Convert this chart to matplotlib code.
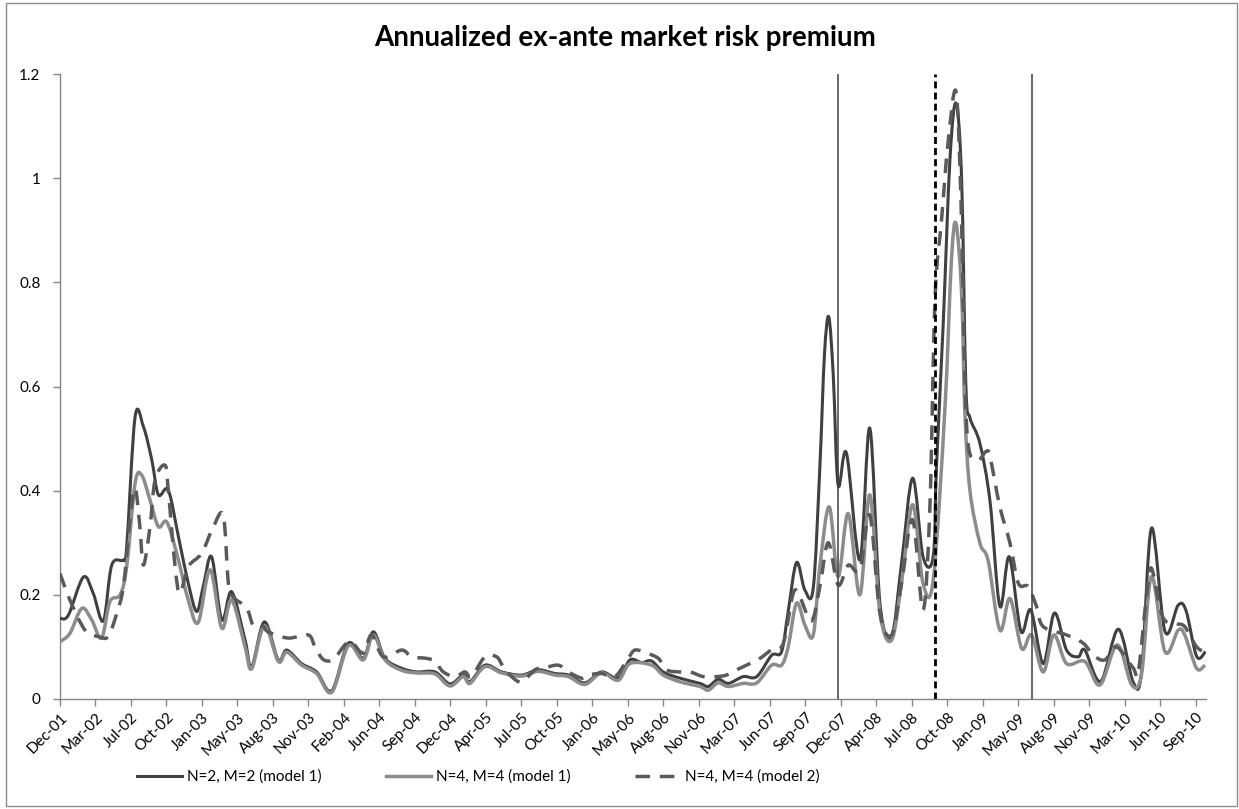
import numpy as np
import matplotlib
matplotlib.use('Agg')
import matplotlib.pyplot as plt
from matplotlib.patches import Rectangle, PathPatch
from matplotlib.path import Path
from matplotlib.lines import Line2D

plt.rcParams['font.family'] = ['Lato', 'DejaVu Sans']

# weekly observations, week 0 = Dec-01, one label every 14 weeks
tick_labels = ['Dec-01', 'Mar-02', 'Jul-02', 'Oct-02', 'Jan-03', 'May-03', 'Aug-03', 'Nov-03',
               'Feb-04', 'Jun-04', 'Sep-04', 'Dec-04', 'Apr-05', 'Jul-05', 'Oct-05', 'Jan-06',
               'May-06', 'Aug-06', 'Nov-06', 'Mar-07', 'Jun-07', 'Sep-07', 'Dec-07', 'Apr-08',
               'Jul-08', 'Oct-08', 'Jan-09', 'May-09', 'Aug-09', 'Nov-09', 'Mar-10', 'Jun-10',
               'Sep-10']
tick_weeks = [14 * i for i in range(len(tick_labels))]
last_week = 452

y_ticks = [0, 0.2, 0.4, 0.6, 0.8, 1.0, 1.2]
y_ticklabels = ['0', '0.2', '0.4', '0.6', '0.8', '1', '1.2']

# N=2, M=2 (model 1)
n2_weeks = [0, 3.3, 9.2, 13.1, 17.1, 20.4, 25.0, 26.3, 29.6, 32.9,
            36.2, 38.8, 42.7, 46.7, 50.6, 53.9, 56.5, 59.8, 63.8, 67.7,
            73.0, 75.6, 80.6, 86.1, 89.4, 95.3, 101.2, 107.2, 113.7, 119.6,
            123.6, 128.2, 134.8, 140.7, 147.9, 153.8, 159.0, 161.7, 167.6, 174.2,
            182.1, 188.6, 195.2, 200.5, 207.0, 213.6, 220.2, 224.8, 229.4, 233.3,
            237.9, 244.5, 252.4, 255.7, 259.6, 263.6, 269.5, 274.8, 280.7, 284.6,
            287.2, 290.5, 293.8, 297.1, 299.7, 301.5, 303.2, 305.0, 306.9, 310.2,
            315.5, 319.4, 323.4, 328.0, 331.9, 336.3, 340.4, 344.4, 345.7, 348.3,
            351.0, 353.4, 355.6, 357.3, 358.9, 362.8, 366.8, 370.7, 374.4, 379.0,
            382.9, 387.8, 392.2, 397.0, 401.6, 404.2, 410.5, 417.4, 423.3, 426.6,
            430.5, 435.8, 441.0, 444.1, 448.3, 451.8]
n2_vals = [0.155, 0.161, 0.234, 0.203, 0.150, 0.257, 0.267, 0.292, 0.541, 0.523,
           0.459, 0.392, 0.401, 0.312, 0.222, 0.168, 0.216, 0.273, 0.152, 0.206,
           0.113, 0.062, 0.148, 0.075, 0.094, 0.068, 0.052, 0.016, 0.107, 0.078,
           0.129, 0.078, 0.059, 0.052, 0.052, 0.029, 0.046, 0.033, 0.065, 0.052,
           0.046, 0.056, 0.049, 0.046, 0.031, 0.052, 0.040, 0.075, 0.070, 0.073,
           0.052, 0.040, 0.030, 0.024, 0.038, 0.030, 0.043, 0.043, 0.084, 0.091,
           0.168, 0.262, 0.209, 0.213, 0.446, 0.660, 0.734, 0.620, 0.411, 0.472,
           0.267, 0.520, 0.184, 0.120, 0.260, 0.424, 0.273, 0.273, 0.446, 0.715,
           1.035, 1.144, 1.000, 0.600, 0.540, 0.491, 0.380, 0.178, 0.273, 0.130,
           0.171, 0.068, 0.165, 0.094, 0.081, 0.094, 0.034, 0.134, 0.032, 0.052,
           0.328, 0.130, 0.180, 0.170, 0.082, 0.091]

# N=4, M=4 (model 1)
n4_weeks = [0, 3.9, 8.6, 12.5, 16.4, 19.7, 23.7, 26.3, 29.6, 32.2,
            35.5, 38.8, 42.1, 46.0, 50.6, 54.5, 59.2, 63.8, 67.7, 73.0,
            75.6, 80.6, 86.1, 89.4, 95.3, 101.2, 107.2, 113.7, 119.6, 123.6,
            128.2, 134.8, 140.7, 147.9, 153.8, 159.0, 161.7, 167.6, 174.2, 182.1,
            188.6, 195.2, 200.5, 207.0, 213.6, 220.2, 224.8, 233.3, 237.9, 244.5,
            252.4, 255.7, 259.6, 263.6, 269.5, 274.8, 280.7, 284.6, 287.2, 290.5,
            293.8, 297.1, 299.7, 303.4, 306.9, 310.9, 315.5, 319.4, 323.4, 328.0,
            331.9, 336.3, 340.4, 344.4, 349.0, 351.6, 353.4, 355.6, 356.9, 358.9,
            362.8, 366.1, 370.7, 374.7, 379.3, 383.2, 387.8, 392.0, 397.0, 404.2,
            410.2, 417.0, 422.7, 426.6, 430.5, 435.8, 441.0, 443.6, 448.3, 451.6]
n4_vals = [0.110, 0.126, 0.174, 0.152, 0.117, 0.187, 0.200, 0.254, 0.414, 0.430,
           0.382, 0.331, 0.340, 0.280, 0.190, 0.147, 0.248, 0.136, 0.190, 0.100,
           0.058, 0.140, 0.072, 0.090, 0.065, 0.049, 0.013, 0.102, 0.075, 0.123,
           0.075, 0.055, 0.050, 0.048, 0.025, 0.043, 0.030, 0.062, 0.050, 0.044,
           0.053, 0.046, 0.043, 0.028, 0.050, 0.036, 0.068, 0.065, 0.046, 0.033,
           0.024, 0.017, 0.031, 0.024, 0.030, 0.031, 0.065, 0.065, 0.100, 0.184,
           0.142, 0.123, 0.254, 0.369, 0.235, 0.356, 0.200, 0.392, 0.165, 0.113,
           0.222, 0.373, 0.222, 0.228, 0.555, 0.843, 0.913, 0.780, 0.550, 0.400,
           0.300, 0.265, 0.132, 0.193, 0.097, 0.123, 0.052, 0.123, 0.068, 0.072,
           0.027, 0.104, 0.027, 0.049, 0.235, 0.091, 0.132, 0.123, 0.059, 0.065]

# N=4, M=4 (model 2)
m2_weeks = [0, 3.9, 9.9, 15.1, 19.0, 22.4, 25.0, 27.6, 29.6, 31.5,
            32.9, 35.5, 37.5, 41.4, 42.7, 45.4, 47.3, 50.6, 55.9, 60.5,
            64.4, 66.4, 68.2, 73.6, 76.2, 80.2, 82.1, 90.0, 97.9, 100.6,
            103.8, 107.8, 112.4, 115.0, 119.6, 122.9, 127.5, 134.8, 138.7, 144.6,
            147.9, 151.2, 155.8, 159.7, 162.3, 167.6, 172.2, 174.8, 178.1, 182.1,
            187.3, 190.6, 196.5, 200.5, 205.7, 208.3, 213.6, 218.9, 224.1, 226.8,
            231.4, 236.0, 239.3, 244.5, 248.5, 253.7, 259.0, 262.9, 266.9, 272.1,
            276.1, 281.3, 285.3, 289.2, 291.8, 296.4, 299.7, 303.0, 306.9, 310.9,
            315.5, 319.4, 323.4, 328.0, 331.9, 336.3, 340.4, 343.1, 345.1, 347.7,
            350.3, 353.4, 355.4, 357.6, 361.5, 365.2, 366.8, 370.7, 374.7, 378.0,
            381.9, 385.2, 387.8, 397.0, 403.6, 407.5, 412.1, 416.7, 423.2, 425.3,
            428.5, 430.5, 434.9, 440.2, 443.6, 448.3, 451.6]
m2_vals = [0.241, 0.190, 0.132, 0.120, 0.120, 0.165, 0.216, 0.344, 0.405, 0.331,
           0.257, 0.331, 0.420, 0.449, 0.401, 0.254, 0.203, 0.254, 0.280, 0.331,
           0.352, 0.222, 0.196, 0.175, 0.142, 0.139, 0.129, 0.117, 0.123, 0.100,
           0.076, 0.076, 0.104, 0.110, 0.088, 0.123, 0.081, 0.094, 0.081, 0.078,
           0.072, 0.052, 0.043, 0.052, 0.043, 0.081, 0.081, 0.062, 0.043, 0.033,
           0.056, 0.059, 0.065, 0.052, 0.040, 0.046, 0.049, 0.043, 0.078, 0.094,
           0.088, 0.078, 0.056, 0.052, 0.052, 0.043, 0.043, 0.046, 0.056, 0.068,
           0.078, 0.097, 0.107, 0.203, 0.196, 0.150, 0.216, 0.300, 0.219, 0.257,
           0.248, 0.353, 0.165, 0.123, 0.222, 0.344, 0.171, 0.369, 0.766, 0.920,
           1.070, 1.166, 0.950, 0.523, 0.460, 0.475, 0.465, 0.369, 0.299, 0.222,
           0.216, 0.177, 0.139, 0.123, 0.107, 0.084, 0.075, 0.100, 0.060, 0.052,
           0.196, 0.251, 0.158, 0.145, 0.139, 0.100, 0.091]

# event markers (weeks)
solid_events = [306.8, 383.2]
dashed_events = [345.0]


def smooth_path(xs, ys):
    # Excel-style "smoothed line": cubic Bezier through every data point
    pts = np.column_stack([xs, ys])
    n = len(pts)
    verts = [pts[0]]
    codes = [Path.MOVETO]
    for i in range(n - 1):
        p0 = pts[i - 1] if i > 0 else pts[i]
        p1, p2 = pts[i], pts[i + 1]
        p3 = pts[i + 2] if i + 2 < n else pts[i + 1]
        verts += [p1 + (p2 - p0) / 6, p2 - (p3 - p1) / 6, p2]
        codes += [Path.CURVE4] * 3
    return Path(verts, codes)


series = [
    (n2_weeks, n2_vals, 'N=2, M=2 (model 1)', dict(color='#404040', lw=2.2, ls='-'), 3),
    (n4_weeks, n4_vals, 'N=4, M=4 (model 1)', dict(color='#8c8c8c', lw=2.5, ls='-'), 4),
    (m2_weeks, m2_vals, 'N=4, M=4 (model 2)', dict(color='#5a5a5a', lw=2.5, ls=(0, (4.2, 2.8))), 5),
]

W, H = 1239, 809
fig = plt.figure(figsize=(W / 100, H / 100), dpi=100)
ax = fig.add_axes([60 / W, 1 - 699 / H, (1206 - 60) / W, (699 - 74) / H])

handles = []
for xs, ys, name, st, z in series:
    ax.add_patch(PathPatch(smooth_path(xs, ys), fill=False, edgecolor=st['color'],
                           lw=st['lw'], linestyle=st['ls'], joinstyle='round',
                           capstyle='butt', zorder=z))
    handles.append(Line2D([], [], color=st['color'], lw=st['lw'], linestyle=st['ls'],
                          label=name))

ax.vlines(solid_events, 0, 1.2, colors='#404040', lw=1.1, zorder=6)
ax.vlines(dashed_events, 0, 1.2, colors='black', lw=2.0, linestyles=[(0, (2.5, 1.5))], zorder=6)

ax.set_xlim(0, last_week)
ax.set_ylim(0, 1.2)
ax.set_yticks(y_ticks)
ax.set_yticklabels(y_ticklabels, fontsize=11)
ax.set_xticks(tick_weeks)
ax.set_xticklabels(tick_labels, fontsize=11, rotation=45, ha='right', va='top',
                   rotation_mode='anchor')

for side in ['top', 'right']:
    ax.spines[side].set_visible(False)
for side in ['left', 'bottom']:
    ax.spines[side].set_color('#868686')
    ax.spines[side].set_linewidth(1.0)
ax.tick_params(axis='both', colors='#868686', labelcolor='black', length=5, width=1.0)
ax.tick_params(axis='y', pad=9)
ax.tick_params(axis='x', pad=3)

fig.text(625 / W, 1 - 38 / H, 'Annualized ex-ante market risk premium', ha='center',
         va='center', fontsize=20, fontweight='bold')

fig.legend(handles=handles, loc='center left', bbox_to_anchor=(137 / W, 1 - 777 / H),
           ncol=3, frameon=False, borderpad=0, borderaxespad=0, handlelength=2.95,
           handletextpad=0.33, columnspacing=4.2, fontsize=11)

fig.patches.append(Rectangle((6 / W, 3 / H), (1237 - 6) / W, (806 - 3) / H,
                             transform=fig.transFigure, fill=False,
                             edgecolor='#8c8c8c', lw=1.0))

fig.savefig('out.png', dpi=100)
